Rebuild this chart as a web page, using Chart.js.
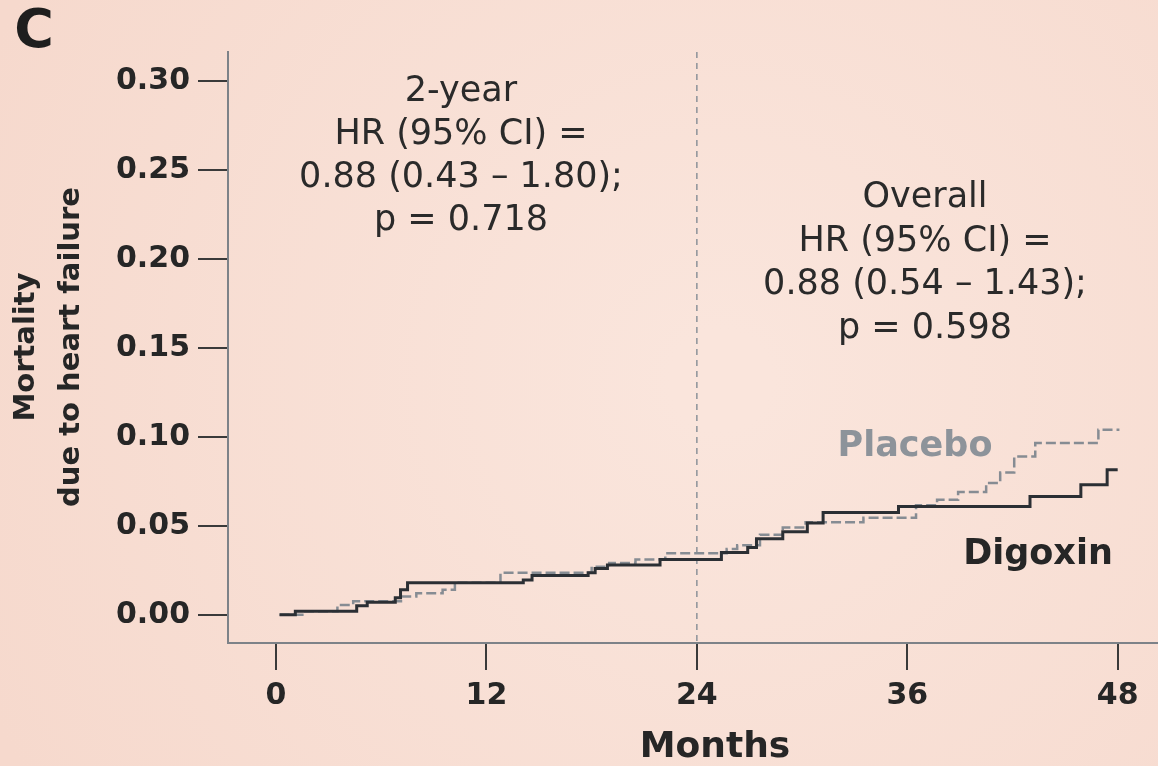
<!DOCTYPE html>
<html>
<head>
<meta charset="utf-8">
<script src="https://cdn.jsdelivr.net/npm/chart.js@4.4.0/dist/chart.umd.min.js"></script>
<style>
  html, body { margin: 0; padding: 0; background: #f8dfd5; }
  #wrap { width: 1158px; height: 766px; }
</style>
</head>
<body>
<div id="wrap"><canvas id="kmChart" width="1158" height="766"></canvas></div>
<script>
// Tick values
const xTicks = [0, 12, 24, 36, 48];
const yTicks = [0, 0.05, 0.10, 0.15, 0.20, 0.25, 0.30];

// Cumulative mortality due to heart failure (step curves)
const digoxinMonths = [0.2, 1.1, 4.6, 5.2, 6.8, 7.1, 7.5, 14.1, 14.6, 17.8, 18.2, 18.9, 21.9, 25.4, 26.9, 27.4, 28.9, 30.3, 31.2, 35.5, 43.0, 45.9, 47.4, 48.0];
const digoxinMortality = [0, 0.002, 0.005, 0.007, 0.0095, 0.014, 0.018, 0.0195, 0.022, 0.0236, 0.026, 0.028, 0.031, 0.035, 0.0378, 0.0427, 0.0466, 0.0515, 0.0575, 0.0608, 0.0665, 0.073, 0.0815, 0.0815];

const placeboMonths = [0.2, 1.5, 3.5, 4.4, 7.2, 8.0, 9.5, 10.2, 12.8, 18.0, 19.0, 20.5, 22.2, 25.7, 26.3, 27.6, 28.9, 30.2, 33.5, 36.5, 37.7, 38.9, 40.5, 41.3, 42.1, 43.3, 46.9, 48.1];
const placeboMortality = [0, 0.002, 0.0055, 0.0075, 0.0103, 0.012, 0.014, 0.018, 0.0236, 0.027, 0.029, 0.031, 0.0345, 0.037, 0.039, 0.045, 0.049, 0.052, 0.0545, 0.0615, 0.0646, 0.069, 0.074, 0.080, 0.089, 0.0965, 0.104, 0.104];

const twoYearLines = ['2-year', 'HR (95% CI) =', '0.88 (0.43 \u2013 1.80);', 'p = 0.718'];
const overallLines = ['Overall', 'HR (95% CI) =', '0.88 (0.54 \u2013 1.43);', 'p = 0.598'];

const FONT = 'DejaVu Sans';

function toPoints(xs, ys) {
    return xs.map((x, i) => ({ x: x, y: ys[i] }));
}

const decorPlugin = {
    id: 'decor',
    beforeDraw(chart) {
        const ctx = chart.ctx;
        const g = ctx.createRadialGradient(720, 380, 50, 720, 380, 800);
        g.addColorStop(0, '#fae5dc');
        g.addColorStop(1, '#f6d9cd');
        ctx.save();
        ctx.fillStyle = g;
        ctx.fillRect(0, 0, chart.width, chart.height);
        ctx.restore();
    },
    beforeDatasetsDraw(chart) {
        // vertical dashed line at 24 months
        const ctx = chart.ctx;
        const x = chart.scales.x.getPixelForValue(24);
        const area = chart.chartArea;
        ctx.save();
        ctx.strokeStyle = '#8c9299';
        ctx.lineWidth = 1.5;
        ctx.setLineDash([6, 5]);
        ctx.beginPath();
        ctx.moveTo(x, area.top);
        ctx.lineTo(x, area.bottom);
        ctx.stroke();
        ctx.restore();
    },
    afterDraw(chart) {
        const ctx = chart.ctx;
        ctx.save();
        ctx.textAlign = 'center';
        ctx.textBaseline = 'middle';

        // panel letter
        ctx.fillStyle = '#1e1e1e';
        ctx.font = 'bold 54px ' + FONT;
        ctx.fillText('C', 34, 33);

        // axis titles
        ctx.fillStyle = '#262626';
        ctx.font = 'bold 36px ' + FONT;
        ctx.fillText('Months', 715, 748);

        ctx.save();
        ctx.translate(0, 347);
        ctx.rotate(-Math.PI / 2);
        ctx.font = 'bold 29px ' + FONT;
        ctx.fillText('Mortality', 0, 26);
        ctx.fillText('due to heart failure', 0, 71);
        ctx.restore();

        // hazard ratio annotations
        ctx.fillStyle = '#2a2a2a';
        ctx.font = '35px ' + FONT;
        twoYearLines.forEach((t, i) => ctx.fillText(t, 461, 92 + i * 43));
        overallLines.forEach((t, i) => ctx.fillText(t, 925, 198 + i * 43.5));

        // series labels
        ctx.font = 'bold 35px ' + FONT;
        ctx.fillStyle = '#8d939a';
        ctx.fillText('Placebo', 915, 447);
        ctx.fillStyle = '#262626';
        ctx.fillText('Digoxin', 1038, 555);
        ctx.restore();
    }
};

new Chart(document.getElementById('kmChart'), {
    type: 'line',
    data: {
        datasets: [
            {
                label: 'Digoxin',
                data: toPoints(digoxinMonths, digoxinMortality),
                stepped: 'before',
                borderColor: '#2b2f34',
                borderWidth: 3,
                pointRadius: 0,
                fill: false
            },
            {
                label: 'Placebo',
                data: toPoints(placeboMonths, placeboMortality),
                stepped: 'before',
                borderColor: '#868c93',
                borderWidth: 2.5,
                borderDash: [10, 4],
                pointRadius: 0,
                fill: false
            }
        ]
    },
    options: {
        responsive: false,
        animation: false,
        layout: { padding: { top: 52, right: 0, left: 0, bottom: 0 } },
        plugins: {
            legend: { display: false },
            tooltip: { enabled: false }
        },
        scales: {
            x: {
                type: 'linear',
                min: -2.74,
                max: 50.3,
                afterBuildTicks: s => { s.ticks = xTicks.map(v => ({ value: v })); },
                afterFit: s => { s.height = 123; },
                grid: { drawOnChartArea: false, drawTicks: true, tickLength: 27, color: '#3a3a3a', lineWidth: 2 },
                border: { color: '#7d8288', width: 2 },
                ticks: {
                    font: { family: FONT, size: 30, weight: 'bold' },
                    color: '#262626',
                    padding: 8,
                    maxRotation: 0,
                    autoSkip: false
                }
            },
            y: {
                min: -0.0159,
                max: 0.3163,
                afterBuildTicks: s => { s.ticks = yTicks.map(v => ({ value: v })); },
                afterFit: s => { s.width = 228; },
                grid: { drawOnChartArea: false, drawTicks: true, tickLength: 30, color: '#3a3a3a', lineWidth: 2 },
                border: { color: '#7d8288', width: 2 },
                ticks: {
                    font: { family: FONT, size: 30, weight: 'bold' },
                    color: '#262626',
                    padding: 8,
                    callback: v => v.toFixed(2)
                }
            }
        }
    },
    plugins: [decorPlugin]
});
</script>
</body>
</html>
